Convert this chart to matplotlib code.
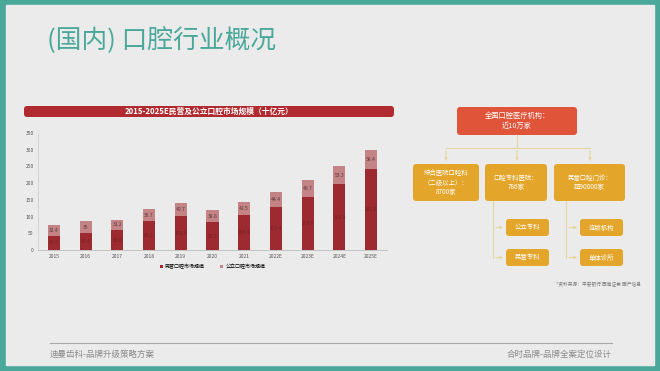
import numpy as np
import matplotlib.pyplot as plt
from matplotlib.patches import FancyBboxPatch, Rectangle

plt.rcParams['font.family'] = ['Noto Sans CJK SC', 'DejaVu Sans']

years = ['2015', '2016', '2017', '2018', '2019', '2020', '2021', '2022E', '2023E', '2024E', '2025E']
private = [42.6, 50.4, 59.8, 86.0, 100.9, 82.3, 103.4, 129.4, 159.6, 196.8, 241.8]
public = [32.4, 35, 31.2, 36.7, 40.7, 38.8, 41.5, 44.4, 48.7, 53.3, 58.4]
legend_labels = ['民营口腔市场规模', '公立口腔市场规模']

W, H = 660, 371
fig = plt.figure(figsize=(6.6, 3.71), dpi=100)
fig.patch.set_facecolor('#4aa89a')

# page background / decorations in pixel coordinates
deco = fig.add_axes([0, 0, 1, 1], zorder=0)
deco.set_xlim(0, W)
deco.set_ylim(H, 0)
deco.axis('off')
deco.add_patch(Rectangle((6, 5), W - 12, H - 11, color='#ebebeb'))

deco.text(47, 41, '(国内) 口腔行业概况', fontsize=18.5, color='#4aa89a', va='center', ha='left',
          fontweight='light')

# footer
deco.plot([50, 612], [343, 343], color='#a8a8a8', lw=0.8)
deco.text(50, 354, '迪曼齿科-品牌升级策略方案', fontsize=6.1, color='#8a8a8a', va='center')
deco.text(612, 354, '合时品牌-品牌全案定位设计', fontsize=6.1, color='#8a8a8a', va='center', ha='right')

# chart title bar
deco.add_patch(FancyBboxPatch((24, 106), 370, 11, boxstyle='round,pad=0,rounding_size=3',
                              fc='#b02a30', ec='none'))
deco.text(209, 111.8, '2015-2025E民营及公立口腔市场规模（十亿元）', fontsize=5.6, color='white',
          fontweight='bold', ha='center', va='center')

# flowchart
line_c = '#e6d7a0'
box_c = '#e3a62a'
def box(x0, y0, x1, y1, txt, fc, fs=4.6):
    deco.add_patch(FancyBboxPatch((x0, y0), x1 - x0, y1 - y0,
                                  boxstyle='round,pad=0,rounding_size=3', fc=fc, ec='none'))
    deco.text((x0 + x1) / 2, (y0 + y1) / 2, txt, fontsize=fs, color='white',
              ha='center', va='center', linespacing=1.3)

box(457, 107, 577, 135, '全国口腔医疗机构：\n近10万家', '#e0553a', fs=5.2)
deco.plot([517, 517], [135, 148], color=line_c, lw=0.8)
deco.plot([446, 590], [148, 148], color=line_c, lw=0.8)
for xc in [446, 517, 590]:
    deco.annotate('', xy=(xc, 164), xytext=(xc, 148),
                  arrowprops=dict(arrowstyle='-|>', color=line_c, lw=0.8, mutation_scale=4))
box(413, 164, 479, 201, '综合医院口腔科\n（二级以上）：\n8700家', box_c)
box(485, 164, 547, 201, '口腔专科医院：\n786家', box_c)
box(554, 164, 625, 201, '民营口腔门诊：\n超90000家', box_c)

for xv, xb, labels in [(493, 506, ['公立专科', '民营专科']), (566, 580, ['连锁机构', '单体诊所'])]:
    deco.plot([xv, xv], [201, 258], color=line_c, lw=0.8)
    for yc, lab in zip([227.5, 257.5], labels):
        deco.annotate('', xy=(xb, yc), xytext=(xv, yc),
                      arrowprops=dict(arrowstyle='-|>', color=line_c, lw=0.8, mutation_scale=4))
        box(xb, yc - 8.5, xb + 43, yc + 8.5, lab, box_c)

deco.text(641, 284, '*资料来源：平安银行 西南证券 国产信息', fontsize=3.4, color='#7a7a7a',
          ha='right', va='center')

# bar chart
ax = fig.add_axes([38 / W, (H - 250) / H, 349 / W, 117 / H], zorder=1)
ax.patch.set_alpha(0)
x = np.arange(len(years))
dark = '#9c2a30'
light = '#c48486'
b1 = ax.bar(x, private, width=0.38, color=dark, label=legend_labels[0])
b2 = ax.bar(x, public, width=0.38, bottom=private, color=light, label=legend_labels[1])
for i in range(len(years)):
    ax.text(x[i], private[i] / 2, f'{private[i]:.1f}', fontsize=3.6, color='#7a2025',
            ha='center', va='center')
    ax.text(x[i], private[i] + public[i] / 2, f'{public[i]:g}', fontsize=3.6, color='#5a3a3a',
            ha='center', va='center')
ax.set_xlim(-0.5, 10.5)
ax.set_ylim(0, 350)
ax.set_yticks(np.arange(0, 351, 50))
ax.set_xticks(x)
ax.set_xticklabels(years)
ax.tick_params(labelsize=3.6, colors='#555555', length=0, pad=3)
for s in ['top', 'right']:
    ax.spines[s].set_visible(False)
ax.spines['left'].set_color('#cfcfcf')
ax.spines['bottom'].set_color('#bdbdbd')
ax.spines['left'].set_linewidth(0.6)
ax.spines['bottom'].set_linewidth(0.6)
ax.legend(loc='upper center', bbox_to_anchor=(0.5, -0.08), ncol=2, frameon=False,
          fontsize=3.6, handlelength=0.6, handleheight=0.6, columnspacing=3, handletextpad=0.5)

fig.savefig('out.png', dpi=100, facecolor=fig.get_facecolor())
